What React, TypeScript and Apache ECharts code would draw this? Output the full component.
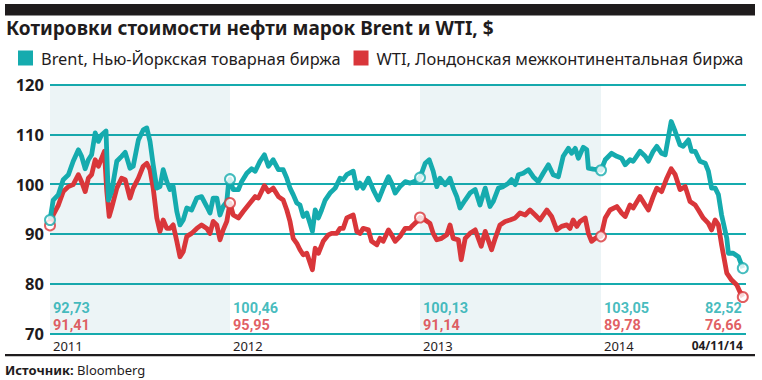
import React, { useEffect, useRef } from "react";
import * as echarts from "echarts";

// ---- data (x = sample position along the time axis, y = USD per barrel) ----
const brent: [number, number][] = [
  [0, 92.8], [0.8, 96.8], [2.1, 97.9], [3.3, 100.9], [4.6, 101.9], [5.8, 104.6], [7.1, 106.9], [7.9, 105.6],
  [8.8, 103.1], [9.6, 104.9], [10.4, 105.9], [11.3, 110.3], [12.1, 108.6], [12.9, 109.9], [14, 110.7],
  [14.6, 96.8], [15.4, 98.5], [16.7, 104.6], [17.9, 105.6], [18.8, 106.4], [20, 103.2], [20.8, 103.6],
  [22.1, 108.9], [23.3, 110.9], [24.2, 111.3], [25, 108.6], [25.8, 103.9], [26.7, 99.2], [27.5, 99.5],
  [28.3, 102.9], [29.2, 100.5], [30, 98.9], [30.8, 99.5], [31.7, 94.5], [32.5, 91.8], [33.3, 92.8],
  [34.2, 95.2], [35.4, 94.8], [36.7, 97.2], [37.9, 97.5], [39.2, 95.5], [40, 94.2], [40.8, 97.2],
  [41.7, 97.2], [42.5, 93.8], [43.3, 95.5], [44.2, 96.5], [44.6, 99.9], [45, 101], [45.8, 98.9],
  [47.1, 98.9], [47.9, 100.5], [49.2, 102.2], [50.4, 103.1], [51.3, 102.6], [52.5, 104.6], [53.6, 105.9],
  [54.6, 103.6], [55.8, 104.9], [57.1, 102.9], [58.3, 102.9], [59.2, 101.2], [60, 99.2], [60.8, 97.9],
  [61.7, 96.2], [62.5, 95.8], [63.3, 93.5], [64.2, 94.2], [65, 92.1], [65.6, 90.5], [66.3, 94.8],
  [67.1, 93.2], [67.9, 94.8], [68.8, 96.8], [70, 98.2], [71.3, 99.2], [72.5, 101.2], [73.3, 100.9],
  [74.2, 101.9], [75.8, 102.6], [76.7, 99.2], [77.5, 100.2], [78.3, 99.2], [79.6, 101.2], [80.8, 98.9],
  [82.1, 96.8], [83.3, 99.2], [84.6, 101.5], [85.4, 100.2], [86.3, 98.2], [87.5, 99.5], [88.8, 100.5],
  [90, 100.2], [91.2, 100.6], [92.5, 101.3], [93.8, 104.2], [94.8, 104.9], [95.8, 102.6], [96.7, 99.5],
  [97.5, 101.2], [98.8, 99.9], [100, 101.2], [100.8, 99.2], [101.7, 97.5], [102.5, 95.2], [103.8, 96.8],
  [105, 98.2], [106.3, 98.9], [107.5, 95.8], [108.8, 99.2], [110, 95.5], [110.8, 96.5], [112.1, 99.2],
  [113.3, 99.5], [114.6, 100.2], [115.4, 100.9], [116.3, 99.9], [117.1, 101.9], [118.3, 102.2],
  [119.6, 102.9], [120.8, 101.5], [122.1, 100.5], [123.3, 102.2], [124.6, 103.9], [125.8, 101.9],
  [127.1, 101.5], [128.3, 105.6], [129.6, 107.2], [130.4, 106.2], [131.3, 107.2], [132.1, 105.2],
  [133.3, 107.4], [134.2, 106.9], [134.6, 103.2], [135.8, 103], [137.75, 102.8], [138.8, 104.9],
  [140.4, 106.2], [141.7, 105.6], [142.9, 105.2], [143.8, 103.9], [145, 104.9], [145.8, 104.6],
  [147.5, 106.6], [148.8, 105.6], [149.6, 104.6], [150.8, 106.6], [151.7, 107.6], [152.9, 106.2],
  [153.8, 105.9], [155.3, 112.6], [156.3, 110.6], [157.5, 107.9], [158.3, 107.6], [159.6, 108.9],
  [160.4, 106.6], [161.3, 106.6], [162.5, 104.6], [163.8, 104.2], [164.6, 102.6], [165.4, 99.2],
  [166.3, 99.2], [167.1, 97.9], [167.9, 93.8], [169.2, 89.1], [169.6, 86.1], [170.8, 86.1],
  [172.1, 85.4], [173.2, 83.1],
];

const wti: [number, number][] = [
  [0, 91.7], [0.8, 93.8], [2.1, 95.8], [3.3, 98.5], [4.6, 99.5], [5.8, 99.9], [7.1, 101.9], [7.9, 100.5],
  [8.8, 98.5], [9.6, 101.2], [10.4, 101.9], [11.3, 104.9], [12.1, 103.6], [12.9, 105.2], [13.6, 106.6],
  [14.2, 98.5], [14.8, 93.5], [15.4, 95.2], [16.7, 99.2], [17.9, 101.2], [18.8, 100.9], [20, 97.2],
  [20.8, 99.2], [22.1, 101.2], [23.3, 103.6], [24.2, 104.2], [25, 102.9], [25.8, 99.2], [26.7, 93.2],
  [27.5, 90.5], [28.3, 92.8], [29.2, 91.1], [30, 91.1], [30.8, 91.8], [31.7, 88.5], [32.5, 85.4],
  [33.3, 86.4], [34.2, 89.5], [35.4, 90.1], [36.7, 91.1], [37.9, 91.8], [39.2, 91.1], [40, 90.1],
  [40.8, 92.5], [41.7, 91.8], [42.5, 88.8], [43.3, 90.8], [44.2, 92.5], [45, 96.2], [45.8, 93.8],
  [47.1, 93.2], [48.3, 94.5], [50, 96.2], [51.3, 97.5], [52.1, 97.2], [53.6, 99.7], [54.6, 98.5],
  [55.8, 99.2], [57.1, 97.5], [58.3, 96.8], [59.2, 94.8], [60, 92.5], [60.8, 89.1], [61.7, 88.1],
  [62.5, 86.8], [63.3, 85.8], [64.2, 86.1], [65.6, 82.8], [66.3, 87.1], [67.1, 86.1], [68.3, 88.5],
  [69.6, 89.8], [70.4, 90.1], [71.7, 90.1], [72.5, 91.1], [73.3, 91.1], [74.2, 93.2], [75.8, 93.8],
  [76.7, 90.5], [77.5, 90.1], [78.3, 91.1], [79.6, 90.8], [80.4, 88.5], [81.7, 87.8], [82.5, 89.1],
  [83.3, 88.5], [84.6, 90.8], [85.4, 89.8], [86.3, 88.5], [87.5, 89.5], [88.8, 91.1], [90, 91.1],
  [90.4, 91.5], [91.7, 92.5], [92.5, 93.3], [93.8, 92.8], [95, 92.1], [95.8, 90.1], [96.7, 88.8],
  [97.9, 89.1], [99.2, 89.8], [100, 91.8], [100.8, 89.1], [102.1, 88.8], [102.8, 84.8], [103.8, 89.1],
  [105, 90.1], [106.3, 90.8], [107.8, 87.5], [108.8, 90.5], [110.4, 86.8], [111.3, 89.1], [112.5, 91.8],
  [113.8, 92.5], [115, 92.8], [116.3, 93.2], [117.5, 94.2], [118.8, 93.8], [120, 94.8], [121.3, 93.8],
  [122.5, 92.8], [124.2, 94.8], [125.4, 93.5], [126.7, 90.8], [127.9, 91.5], [129.2, 91.8], [130, 91.1],
  [130.8, 92.8], [131.7, 91.5], [132.5, 92.5], [133.8, 93.2], [134.6, 90.1], [135.4, 88.5], [136.3, 89.1],
  [137.75, 89.5], [138.8, 93.2], [140, 94.8], [141.7, 95.5], [142.9, 94.2], [143.8, 93.5], [145, 95.8],
  [145.8, 95.2], [147.5, 97.5], [148.8, 95.8], [149.6, 94.8], [150.8, 97.5], [151.7, 99.2], [152.9, 98.5],
  [154.2, 101.2], [155.3, 103.1], [156.3, 101.9], [157.5, 98.9], [158.8, 99.5], [160, 96.5], [161.3, 95.8],
  [162.1, 94.8], [163.3, 93.2], [164.6, 92.1], [165.4, 90.8], [166.3, 92.8], [167.1, 91.8], [167.9, 87.8],
  [169.2, 82.1], [170.4, 80.7], [171.7, 79.7], [172.5, 78.3], [173.2, 77.3],
];

const yearLabels = ["2011", "2012", "2013", "2014"];
const yearStarts = [0, 45, 92.5, 137.75];
const endX = 173.2;
const endLabel = "04/11/14";
const brentMarks = ["92,73", "100,46", "100,13", "103,05", "82,52"];
const wtiMarks = ["91,41", "95,95", "91,14", "89,78", "76,66"];
const shadedYears = [[0, 45], [92.5, 137.75]];

const TITLE = "Котировки стоимости нефти марок Brent и WTI, $";
const BRENT_NAME = "Brent, Нью-Йоркская товарная биржа";
const WTI_NAME = "WTI, Лондонская межконтинентальная биржа";

const TEAL = "#15abae";
const RED = "#d9363a";
const DARK = "#1f1c1d";
const FONT = '"Noto Sans", "Open Sans", sans-serif';
const NUM_FONT = 'Roboto, "Liberation Sans", sans-serif';

const markX = [...yearStarts, endX];
const valueAt = (s: [number, number][], x: number) => {
  const p = s.find((d) => d[0] === x);
  return p ? p[1] : null;
};

export default function App() {
  const ref = useRef<HTMLDivElement>(null);

  useEffect(() => {
    document.body.style.margin = "0";
    const chart = echarts.init(ref.current!, null, { renderer: "svg" });
    const last = markX.length - 1;

    const markLabels = (texts: string[], y: number, color: string, name: string) => ({
      type: "scatter",
      name,
      symbolSize: 0,
      itemStyle: { color },
      silent: true,
      z: 5,
      data: markX.map((x, i) => ({
        value: [x, y],
        label: {
          show: true,
          position: i === last ? "left" : "right",
          distance: i === last ? 1 : 3,
          formatter: texts[i],
          color,
          fontSize: 14.5,
          lineHeight: 15,
          fontWeight: "bold",
          fontFamily: NUM_FONT,
        },
      })),
    });

    const circles = (s: [number, number][], color: string, name: string) => ({
      type: "scatter",
      name,
      symbol: "circle",
      symbolSize: 10,
      z: 6,
      itemStyle: { color: "#ffffff", borderColor: color, borderWidth: 2 },
      data: markX.map((x) => [x, valueAt(s, x)]),
    });

    chart.setOption({
      animation: false,
      textStyle: { fontFamily: FONT },
      title: {
        text: TITLE,
        left: 6,
        top: 18,
        padding: 0,
        textStyle: { fontSize: 19, fontWeight: "bold", color: DARK, fontFamily: FONT },
      },
      legend: {
        data: [BRENT_NAME, WTI_NAME],
        left: 18,
        top: 50,
        padding: 0,
        icon: "rect",
        itemWidth: 15,
        itemHeight: 15,
        itemGap: 13,
        textStyle: { fontSize: 16.4, color: DARK, fontFamily: FONT, padding: [0, 0, 0, 3] },
      },
      grid: { left: 50, right: 16, top: 84.7, bottom: 46.7 },
      xAxis: [
        {
          type: "value",
          min: 0,
          max: 174,
          axisLine: { show: false },
          axisTick: { show: false },
          splitLine: { show: false },
          axisLabel: {
            customValues: yearStarts,
            formatter: (v: number) => yearLabels[yearStarts.indexOf(v)] ?? "",
            align: "left",
            margin: 6,
            padding: [0, 0, 0, 3],
            fontSize: 13,
            color: DARK,
            fontFamily: FONT,
          },
        },
        {
          type: "value",
          min: 0,
          max: 174,
          position: "bottom",
          axisLine: { show: false },
          axisTick: { show: false },
          splitLine: { show: false },
          axisLabel: {
            customValues: [endX],
            formatter: () => endLabel,
            align: "right",
            margin: 6,
            fontSize: 12,
            fontWeight: "bold",
            color: DARK,
            fontFamily: FONT,
          },
        },
      ],
      yAxis: {
        type: "value",
        min: 70,
        max: 120,
        interval: 10,
        axisLine: { show: false },
        axisTick: { show: false },
        axisLabel: { fontSize: 16.5, fontWeight: "bold", color: DARK, margin: 6, fontFamily: FONT },
        splitLine: { lineStyle: { color: TEAL, width: 2 } },
      },
      series: [
        {
          type: "line",
          name: "shade",
          data: [],
          silent: true,
          z: 1,
          markArea: {
            silent: true,
            itemStyle: { color: "rgba(40,130,160,0.09)" },
            data: shadedYears.map(([a, b]) => [{ xAxis: a }, { xAxis: b }]),
          },
        },
        {
          type: "line",
          name: BRENT_NAME,
          data: brent,
          color: TEAL,
          symbol: "none",
          z: 3,
          lineStyle: { width: 4.8, color: TEAL, join: "round" },
        },
        {
          type: "line",
          name: WTI_NAME,
          data: wti,
          color: RED,
          symbol: "none",
          z: 2,
          lineStyle: { width: 4.8, color: RED, join: "round" },
        },
        circles(wti, RED, "wtiCircles"),
        circles(brent, TEAL, "brentCircles"),
        markLabels(brentMarks, 75.0, TEAL, "brentLabels"),
        markLabels(wtiMarks, 71.6, RED, "wtiLabels"),
      ],
      graphic: [
        { type: "rect", left: 5, top: 4, shape: { width: 750, height: 11.5 }, style: { fill: DARK } },
        { type: "rect", left: 5, top: 354, shape: { width: 750, height: 2.2 }, style: { fill: DARK } },
        {
          type: "text",
          left: 5,
          top: 363,
          style: {
            text: "{b|Источник:} Bloomberg",
            fill: DARK,
            fontSize: 13,
            fontFamily: FONT,
            rich: { b: { fontWeight: "bold", fontSize: 13, fill: DARK, fontFamily: FONT } },
          },
        },
      ],
    });

    return () => chart.dispose();
  }, []);

  return (
    <div
      ref={ref}
      style={{ position: "absolute", left: 0, top: 0, width: 762, height: 380, background: "#ffffff" }}
    />
  );
}
